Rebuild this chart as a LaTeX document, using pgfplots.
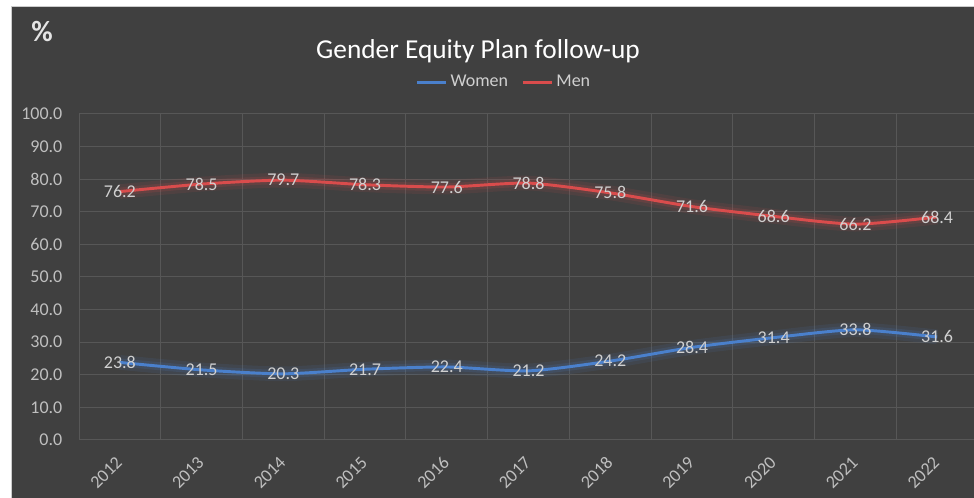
\documentclass[border=0pt]{standalone}
\usepackage{fontspec}
\setmainfont{Carlito}
\usepackage{pgfplots}
\pgfplotsset{compat=1.18}

\definecolor{bg}{HTML}{404040}
\definecolor{gridc}{HTML}{575757}
\definecolor{tickc}{HTML}{BFBFBF}
\definecolor{labc}{HTML}{D0D0D0}
\definecolor{womenc}{HTML}{4A80CC}
\definecolor{menc}{HTML}{D94C4C}

\pgfplotstableread{
x year women men
0 2012 23.8 76.2
1 2013 21.5 78.5
2 2014 20.3 79.7
3 2015 21.7 78.3
4 2016 22.4 77.6
5 2017 21.2 78.8
6 2018 24.2 75.8
7 2019 28.4 71.6
8 2020 31.4 68.6
9 2021 33.8 66.2
10 2022 31.6 68.4
}\gendertable

\newcommand{\lab}{\fontsize{13.5}{15}\selectfont}

\begin{document}
\begin{tikzpicture}[x=0.75pt,y=0.75pt]
% chart area (pixel units, y from bottom)
\fill[white] (0,0) rectangle (974,498);
\fill[bg] (11,0) rectangle (974,492);
\draw[gray!40, line width=0.6pt] (11,0) -- (11,492) -- (974,492);

\node[anchor=base, text=white, font=\fontsize{20.5}{22}\selectfont] at (478,439) {Gender Equity Plan follow-up};
\node[anchor=base west, inner sep=0pt, text=white!90!black, font=\fontsize{22}{24}\selectfont\bfseries] at (31,456) {\%};

\begin{axis}[
    at={(59.25pt,43.5pt)}, anchor=south west,
    scale only axis,
    width=674.25pt, height=244.5pt,
    xmin=-0.5, xmax=10.5,
    ymin=0, ymax=100,
    axis line style={draw=none},
    major tick length=0pt, minor tick length=0pt,
    xtick={0,...,10},
    xticklabels={2012,2013,2014,2015,2016,2017,2018,2019,2020,2021,2022},
    minor xtick={-0.5,0.5,...,10.5},
    xminorgrids=true,
    ytick={0,10,...,100},
    ymajorgrids=true,
    grid style={gridc, line width=0.75pt},
    minor grid style={gridc, line width=0.75pt},
    yticklabel style={text=tickc, font=\lab, xshift=-9pt},
    xticklabel style={text=tickc, font=\lab, xshift=1.9pt, yshift=-12.2pt, rotate=45, anchor=east},
    /pgf/number format/assume math mode=true,
    yticklabel={\pgfmathprintnumber[fixed,zerofill,precision=1]{\tick}},
    legend columns=2,
    legend style={draw=none, fill=none, text=labc, font=\lab,
        at={(0.473,1.098)}, anchor=center,
        /tikz/every even column/.append style={column sep=8pt}},
    legend image code/.code={\draw[#1] (0pt,0pt) -- (22pt,0pt);},
    clip=false,
]
% glow
\addplot[womenc, opacity=0.10, line width=11pt, smooth, tension=0.4, forget plot] table[x=x, y=women] {\gendertable};
\addplot[womenc, opacity=0.15, line width=6pt, smooth, tension=0.4, forget plot] table[x=x, y=women] {\gendertable};
\addplot[menc, opacity=0.10, line width=11pt, smooth, tension=0.4, forget plot] table[x=x, y=men] {\gendertable};
\addplot[menc, opacity=0.15, line width=6pt, smooth, tension=0.4, forget plot] table[x=x, y=men] {\gendertable};
% lines
\addplot[womenc, line width=2.2pt, smooth, tension=0.4] table[x=x, y=women] {\gendertable};
\addlegendentry{Women}
\addplot[menc, line width=2.2pt, smooth, tension=0.4] table[x=x, y=men] {\gendertable};
\addlegendentry{Men}
% data labels
\addplot[draw=none, forget plot,
    nodes near coords={\pgfmathprintnumber[fixed,zerofill,precision=1]{\pgfplotspointmeta}},
    every node near coord/.append style={anchor=center, text=labc, font=\lab, inner sep=0pt}]
    table[x=x, y=women] {\gendertable};
\addplot[draw=none, forget plot,
    nodes near coords={\pgfmathprintnumber[fixed,zerofill,precision=1]{\pgfplotspointmeta}},
    every node near coord/.append style={anchor=center, text=labc, font=\lab, inner sep=0pt}]
    table[x=x, y=men] {\gendertable};
\end{axis}
\pgfresetboundingbox
\useasboundingbox (0,0) rectangle (974,498);
\end{tikzpicture}
\end{document}
